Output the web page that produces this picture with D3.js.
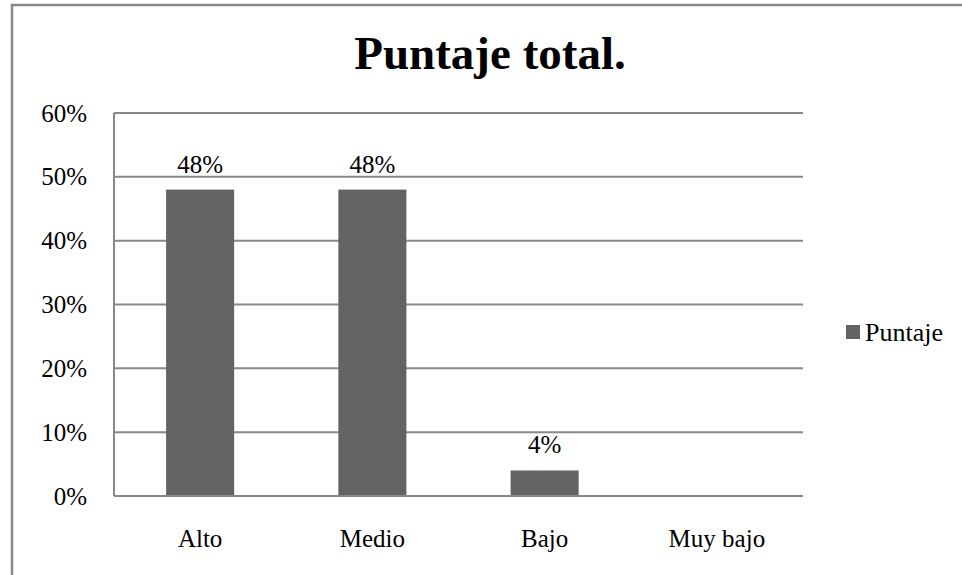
<!DOCTYPE html>
<html>
<head>
<meta charset="utf-8">
<script src="https://cdn.jsdelivr.net/npm/d3@7"></script>
<style>
  html, body { margin: 0; padding: 0; background: #fff; }
  svg { display: block; }
  svg text { font-family: "Times New Roman", "Liberation Serif", serif !important; }
</style>
</head>
<body>
<script>
const categories = ["Alto", "Medio", "Bajo", "Muy bajo"];
const values = [0.48, 0.48, 0.04, 0];
const dataLabels = ["48%", "48%", "4%", ""];
const yTicks = [0, 0.1, 0.2, 0.3, 0.4, 0.5, 0.6];
const seriesName = "Puntaje";
const title = "Puntaje total.";

const W = 962, H = 575;
const plot = { left: 114, right: 803, top: 113, bottom: 496 };
const barColor = "#636363";
const gridColor = "#888888";

const svg = d3.select("body").append("svg").attr("width", W).attr("height", H);

// outer chart border (right and bottom fall off the page)
svg.append("rect")
  .attr("x", 12).attr("y", 5)
  .attr("width", W + 20).attr("height", H + 20)
  .attr("fill", "#fff").attr("stroke", gridColor).attr("stroke-width", 2.5);

const x = d3.scaleBand().domain(categories)
  .range([plot.left, plot.right]).paddingInner(0.605).paddingOuter(0.3025);
const y = d3.scaleLinear().domain([0, 0.6]).range([plot.bottom, plot.top]);

// gridlines
svg.append("g").selectAll("line").data(yTicks.filter(d => d > 0)).join("line")
  .attr("x1", plot.left).attr("x2", plot.right)
  .attr("y1", d => y(d)).attr("y2", d => y(d))
  .attr("stroke", gridColor).attr("stroke-width", 2);

// y axis
const yAxis = d3.axisLeft(y).tickValues(yTicks).tickFormat(d3.format(".0%")).tickSize(0).tickPadding(27);
const gy = svg.append("g").attr("transform", `translate(${plot.left},0)`).call(yAxis);
gy.attr("font-family", null).attr("font-size", null);
gy.select(".domain").remove();
gy.selectAll("text").attr("font-size", 25).attr("fill", "#000").attr("dy", "0.32em");

// bars
svg.append("g").selectAll("rect").data(values).join("rect")
  .attr("x", (d, i) => x(categories[i]))
  .attr("width", x.bandwidth())
  .attr("y", d => y(d))
  .attr("height", d => y(0) - y(d))
  .attr("fill", barColor);

// axes lines
svg.append("line").attr("x1", plot.left).attr("x2", plot.left)
  .attr("y1", plot.top).attr("y2", plot.bottom)
  .attr("stroke", gridColor).attr("stroke-width", 2);

const xAxis = d3.axisBottom(x).tickSize(0).tickPadding(33);
const gx = svg.append("g").attr("transform", `translate(0,${plot.bottom})`).call(xAxis);
gx.attr("font-family", null).attr("font-size", null);
gx.select(".domain").attr("stroke", gridColor).attr("stroke-width", 2).attr("d", `M${plot.left},0H${plot.right}`);
gx.selectAll("text").attr("font-size", 25).attr("fill", "#000");

// data labels
svg.append("g").selectAll("text").data(values).join("text")
  .attr("x", (d, i) => x(categories[i]) + x.bandwidth() / 2)
  .attr("y", d => y(d) - 17)
  .attr("text-anchor", "middle")
  .attr("font-size", 25)
  .attr("fill", "#000")
  .text((d, i) => dataLabels[i]);

// title
svg.append("text")
  .attr("x", 490).attr("y", 69)
  .attr("text-anchor", "middle")
  .attr("font-size", 47).attr("font-weight", "bold")
  .attr("fill", "#000")
  .text(title);

// legend
const lg = svg.append("g").attr("transform", "translate(846,325)");
lg.append("rect").attr("width", 14).attr("height", 14).attr("fill", barColor);
lg.append("text").attr("x", 19).attr("y", 16).attr("font-size", 26).attr("fill", "#000").text(seriesName);
</script>
</body>
</html>
